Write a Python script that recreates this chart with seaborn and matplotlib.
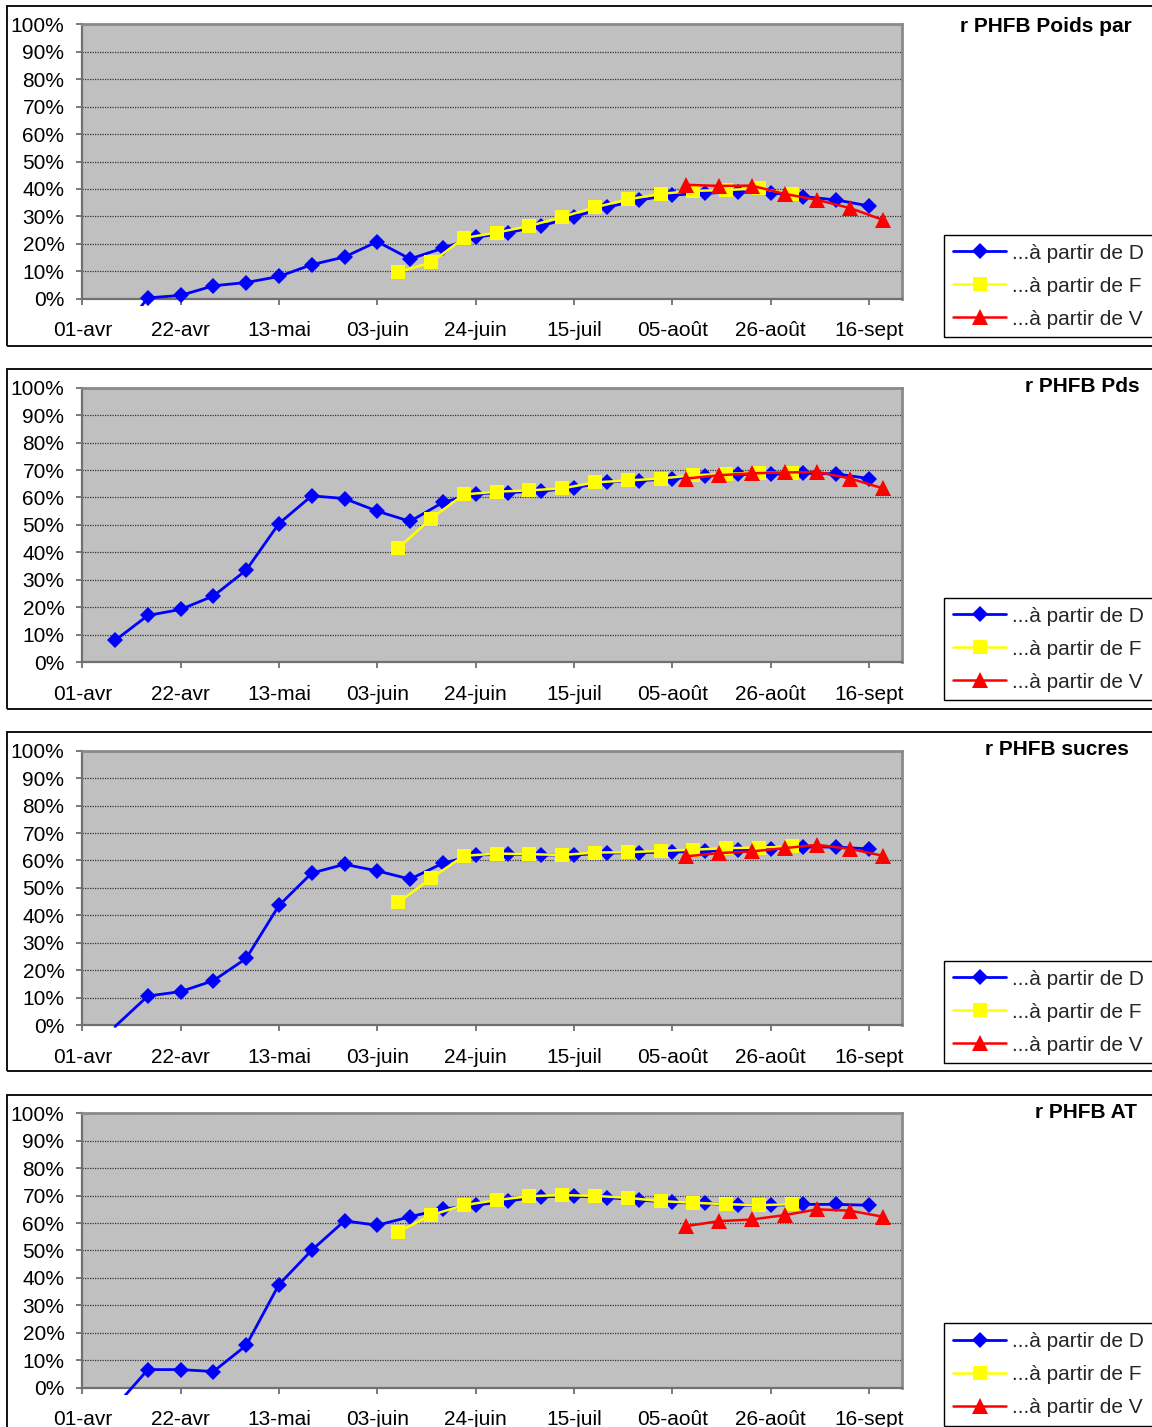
import pandas as pd
import matplotlib
matplotlib.use("Agg")
import matplotlib.pyplot as plt
from matplotlib.patches import Rectangle
from matplotlib.lines import Line2D
import seaborn as sns

# ---------------------------------------------------------------- data
YEAR = "2006"

dates_D = ["04-08", "04-15", "04-22", "04-29", "05-06", "05-13", "05-20", "05-27",
           "06-03", "06-10", "06-17", "06-24", "07-01", "07-08", "07-15", "07-22",
           "07-29", "08-05", "08-12", "08-19", "08-26", "09-02", "09-09", "09-16"]
dates_F = ["06-07 12:00", "06-14 12:00", "06-21 12:00", "06-28 12:00", "07-05 12:00",
           "07-12 12:00", "07-19 12:00", "07-26 12:00", "08-02 12:00", "08-09 12:00",
           "08-16 12:00", "08-23 12:00", "08-30 12:00"]
dates_V = ["08-08", "08-15", "08-22", "08-29", "09-05", "09-12", "09-19"]

titles = ["r PHFB Poids par", "r PHFB Pds", "r PHFB sucres", "r PHFB AT"]

# values in %
poids_D = [-15, 0.3, 1.2, 4.7, 5.9, 8.1, 12.4, 15.2, 20.8, 14.5, 18.4, 22.4, 24.1,
           26.5, 29.9, 33.3, 36.0, 37.8, 38.4, 39.0, 38.7, 37.2, 36.0, 33.8]
poids_F = [9.7, 13.2, 22.1, 24.1, 26.5, 29.8, 33.3, 36.2, 38.2, 39.3, 39.6, 40.2, 38.2]
poids_V = [41.5, 41.1, 41.2, 38.2, 36.0, 33.0, 28.7]

pds_D = [7.9, 17.0, 19.2, 24.1, 33.5, 50.5, 60.6, 59.6, 55.0, 51.3, 58.2, 61.4, 61.8,
         62.3, 63.5, 65.7, 66.1, 66.9, 67.8, 68.4, 68.5, 68.8, 68.6, 66.9]
pds_F = [41.6, 52.3, 61.1, 62.1, 62.6, 63.3, 65.5, 66.2, 66.9, 68.1, 68.6, 69.0, 69.0]
pds_V = [66.9, 68.1, 68.8, 69.1, 69.3, 66.9, 63.3]

sucres_D = [-0.5, 10.6, 12.2, 16.2, 24.3, 43.6, 55.4, 58.6, 56.2, 53.2, 59.0, 62.0, 62.3,
            62.0, 62.0, 62.7, 62.9, 63.0, 63.5, 63.7, 64.2, 64.9, 64.9, 64.2]
sucres_F = [44.7, 53.5, 61.7, 62.5, 62.3, 62.0, 62.9, 63.0, 63.5, 63.9, 64.5, 64.7, 65.1]
sucres_V = [61.5, 62.7, 63.3, 64.5, 65.7, 64.2, 61.7]

at_D = [-7, 6.6, 6.6, 5.9, 15.4, 37.6, 50.1, 60.8, 59.2, 62.3, 65.1, 66.5, 68.1,
        69.6, 69.8, 69.3, 68.4, 67.5, 67.2, 66.5, 66.5, 66.8, 66.8, 66.5]
at_F = [56.8, 62.9, 66.5, 68.4, 69.8, 70.2, 69.9, 69.2, 68.0, 67.4, 66.9, 66.5, 66.9]
at_V = [58.9, 60.7, 61.3, 62.9, 65.0, 64.5, 62.3]

panels = [(poids_D, poids_F, poids_V), (pds_D, pds_F, pds_V),
          (sucres_D, sucres_F, sucres_V), (at_D, at_F, at_V)]

legend_labels = ["...à partir de D", "...à partir de F", "...à partir de V"]
tick_dates = ["04-01", "04-22", "05-13", "06-03", "06-24", "07-15", "08-05", "08-26", "09-16"]
tick_labels = ["01-avr", "22-avr", "13-mai", "03-juin", "24-juin", "15-juil",
               "05-août", "26-août", "16-sept"]
y_ticks = [0, 10, 20, 30, 40, 50, 60, 70, 80, 90, 100]
x_start, x_end = "04-01", "09-23"

# ---------------------------------------------------------------- style
sns.set_theme(style="white")
plt.rcParams["font.family"] = ["Liberation Sans", "DejaVu Sans"]

W, H = 1152, 1427
fig = plt.figure(figsize=(W / 100, H / 100), dpi=100)
fig.patch.set_facecolor("white")


def ts(s):
    return pd.Timestamp(f"{YEAR}-{s}")


series_style = [
    dict(color="#0000FF", marker="D", markersize=8.0, linewidth=2.0, zorder=3),
    dict(color="#FFFF00", marker="s", markersize=9.6, linewidth=1.8, zorder=4),
    dict(color="#FF0000", marker="^", markersize=11.0, linewidth=1.8, zorder=5),
]
series_dates = [dates_D, dates_F, dates_V]

plot_top = [24.3, 387.7, 750.7, 1113.3]
plot_h = 274.4
plot_left, plot_right = 82.3, 901.7
box_top = [6, 369, 732, 1095]
box_bottom = [346, 709, 1071, 1440]
legend_top = [235, 598, 961, 1323.3]
title_x = [1046, 1082, 1057, 1086]
title_base = [31.7, 392.3, 755.3, 1118.3]

for k, values in enumerate(panels):
    # chart frame
    fig.add_artist(Rectangle((7 / W, 1 - box_bottom[k] / H), 1.2, (box_bottom[k] - box_top[k]) / H,
                             transform=fig.transFigure, fill=False, edgecolor="#000000",
                             linewidth=1.3, clip_on=False, zorder=0))

    ax = fig.add_axes([plot_left / W, 1 - (plot_top[k] + plot_h) / H,
                       (plot_right - plot_left) / W, plot_h / H])
    ax.set_facecolor("#C0C0C0")

    for dates, vals, st in zip(series_dates, values, series_style):
        df = pd.DataFrame({"date": [ts(d) for d in dates], "val": vals})
        shown = [0 <= v <= 100 for v in vals]
        sns.lineplot(data=df, x="date", y="val", ax=ax, estimator=None, sort=False,
                     errorbar=None, legend=False, color=st["color"], linewidth=st["linewidth"],
                     marker=st["marker"], markersize=st["markersize"], markevery=shown,
                     markeredgewidth=0, markeredgecolor=st["color"], zorder=st["zorder"])
        line = ax.lines[-1]
        line.set_clip_box(None)
        line.set_clip_path(Rectangle((0, -0.025), 1, 1.05, transform=ax.transAxes))

    ax.set_xlim(ts(x_start), ts(x_end))
    ax.set_ylim(0, 100)
    ax.set_xticks([ts(d) for d in tick_dates])
    ax.set_xticklabels(tick_labels)
    ax.set_yticks(y_ticks)
    ax.set_yticklabels([f"{v}%" for v in y_ticks])
    ax.set_xlabel("")
    ax.set_ylabel("")

    ax.yaxis.grid(True, color="#333333", linestyle=(0, (1, 1)), linewidth=0.9)
    ax.xaxis.grid(False)
    ax.set_axisbelow(True)

    for side in ["top", "right"]:
        ax.spines[side].set_color("#8a8a8a")
        ax.spines[side].set_linewidth(2.0)
    for side in ["left", "bottom"]:
        ax.spines[side].set_color("#707070")
        ax.spines[side].set_linewidth(1.6)

    ax.tick_params(axis="both", which="major", direction="out", length=4.4, width=1.3,
                   color="#707070", labelsize=15, labelcolor="#000000")
    ax.tick_params(axis="y", pad=8.5, left=True)
    ax.tick_params(axis="x", pad=12, bottom=True)

    # title
    fig.text(title_x[k] / W, 1 - title_base[k] / H, titles[k], ha="center", va="baseline",
             fontsize=15, fontweight="bold", color="#000000")

    # legend
    handles = [Line2D([], [], color=st["color"], marker=st["marker"],
                      markersize=st["markersize"], linewidth=st["linewidth"],
                      markeredgewidth=0) for st in series_style]
    leg = fig.legend(handles, legend_labels, loc="upper left",
                     bbox_to_anchor=(944.3 / W, 1 - (legend_top[k] + 99) / H, 300 / W, 99 / H),
                     mode="expand", frameon=True, fancybox=False, edgecolor="#000000",
                     facecolor="white", framealpha=1, borderpad=0.42, labelspacing=0.67,
                     handlelength=2.55, handletextpad=0.3, borderaxespad=0, fontsize=15)
    leg.get_frame().set_linewidth(1.0)

fig.savefig("out.png", dpi=100)
